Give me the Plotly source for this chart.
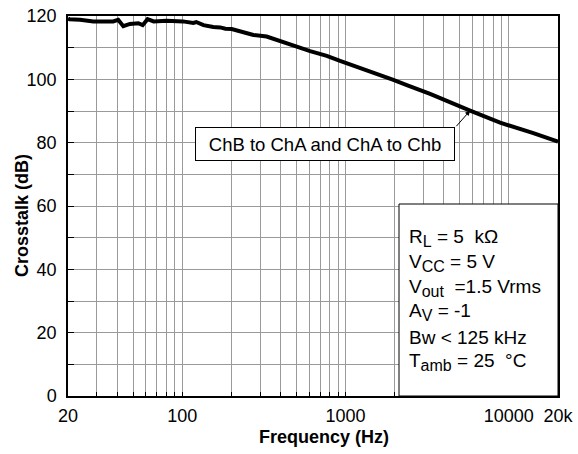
import math
import plotly.graph_objects as go

# ---- data ----
freq_hz = [20, 20.4, 23.7, 28.6, 37.8, 40.6, 43.6, 47.9, 53.9, 57.3, 61.4, 66.9, 80.3,
           101, 117, 122, 135, 155, 171, 184, 201, 227, 255, 273, 329, 397, 503, 607,
           768, 926, 1172, 1481, 1964, 2372, 3296, 5790, 8840, 14130, 17060, 20000]
crosstalk_db = [119.2, 119.0, 118.8, 118.3, 118.3, 118.8, 116.8, 117.5, 117.7, 117.1,
                119.0, 118.3, 118.5, 118.3, 117.8, 118.1, 117.1, 116.5, 116.4, 116.0,
                115.9, 115.2, 114.3, 114.0, 113.5, 112.2, 110.3, 108.9, 107.4, 105.8,
                104.0, 102.2, 99.8, 98.2, 95.4, 90.1, 86.3, 83.0, 81.4, 80.3]

x_label_vals = [20, 100, 1000, 10000, 20000]
x_label_text = ["20", "100", "1000", "10000", "20k"]
y_label_vals = [0, 20, 40, 60, 80, 100, 120]

curve_label = "ChB to ChA and ChA to Chb"
arrow_point = (5790, 90.1)


def sub(s):
    return "<sub><span style='font-size:16px'>" + s + "</span></sub>"


cond_lines = ["R" + sub("L") + " = 5  kΩ",
              "V" + sub("CC") + " = 5 V",
              "V" + sub("out") + "  =1.5 Vrms",
              "A" + sub("V") + " = -1",
              "Bw < 125 kHz",
              "T" + sub("amb") + " = 25  °C"]

# ---- grid positions ----
x_grid = []
for dec in [10, 100, 1000, 10000]:
    for m in range(1, 10):
        v = m * dec
        if 20 <= v <= 20000:
            x_grid.append(v)
x_text = [x_label_text[x_label_vals.index(v)] if v in x_label_vals else "" for v in x_grid]
y_grid = list(range(0, 121, 10))
y_text = [str(v) if v in y_label_vals else "" for v in y_grid]

FONT = "Liberation Sans, Arial, Helvetica, sans-serif"
W, H = 578, 454
L, R, T, B = 68, 20, 16, 58
PW, PH = W - L - R, H - T - B


def px(xpix):
    return (xpix - L) / PW


def py(ypix):
    return (H - B - ypix) / PH


fig = go.Figure()
fig.add_trace(go.Scatter(x=freq_hz, y=crosstalk_db, mode="lines",
                         line=dict(color="black", width=4), showlegend=False,
                         hoverinfo="skip"))

fig.update_layout(
    template="none",
    width=W, height=H,
    margin=dict(l=L, r=R, t=T, b=B, pad=0, autoexpand=False),
    paper_bgcolor="white", plot_bgcolor="white",
    font=dict(family=FONT, size=18, color="black"),
    hovermode=False,
    xaxis=dict(type="log", range=[math.log10(20), math.log10(20000)], automargin=False,
               tickmode="array", tickvals=x_grid, ticktext=x_text,
               showgrid=True, gridcolor="#9a9a9a", gridwidth=1,
               ticks="inside", ticklen=4, tickcolor="black", tickwidth=1,
               showline=True, linecolor="black", linewidth=1.5, mirror=True,
               zeroline=False, tickfont=dict(size=18), ticklabelstandoff=3),
    yaxis=dict(range=[0, 120], tickmode="array", tickvals=y_grid, ticktext=y_text,
               automargin=False,
               showgrid=True, gridcolor="#9a9a9a", gridwidth=1,
               ticks="inside", ticklen=6, tickcolor="black", tickwidth=1,
               showline=True, linecolor="black", linewidth=1.5, mirror=True,
               zeroline=False, tickfont=dict(size=18), ticklabelstandoff=6),
)

# conditions box (covers grid)
fig.add_shape(type="rect", xref="paper", yref="paper",
              x0=px(399), x1=px(558), y0=py(396), y1=py(204),
              fillcolor="white", line=dict(color="black", width=1), layer="above")
cy = [238, 263, 288, 312, 337, 362]
for txt, yc in zip(cond_lines, cy):
    fig.add_annotation(xref="paper", yref="paper", x=px(407), y=py(yc),
                       xanchor="left", yanchor="middle", text=txt, showarrow=False,
                       font=dict(size=19), align="left")

# curve label box + arrow
fig.add_annotation(xref="paper", yref="paper", x=px(325), y=py(144),
                   xanchor="center", yanchor="middle", text=curve_label, showarrow=False,
                   font=dict(size=18.5), bgcolor="white", bordercolor="black",
                   borderwidth=1, borderpad=4, width=250, height=24)
fig.add_annotation(x=math.log10(arrow_point[0]), y=arrow_point[1], xref="x", yref="y",
                   text="", showarrow=True, ax=-15, ay=17, axref="pixel", ayref="pixel",
                   arrowhead=2, arrowsize=1, arrowwidth=1, arrowcolor="black")

# axis titles
fig.add_annotation(xref="paper", yref="paper", x=px(324), y=py(437),
                   xanchor="center", yanchor="middle", text="<b>Frequency (Hz)</b>",
                   showarrow=False, font=dict(size=18))
fig.add_annotation(xref="paper", yref="paper", x=px(22), y=py(216),
                   xanchor="center", yanchor="middle", text="<b>Crosstalk (dB)</b>",
                   showarrow=False, font=dict(size=18), textangle=-90)

fig.write_html("out.html", config={"displayModeBar": False},
               post_script="document.body.style.margin='0';document.body.style.padding='0';")
